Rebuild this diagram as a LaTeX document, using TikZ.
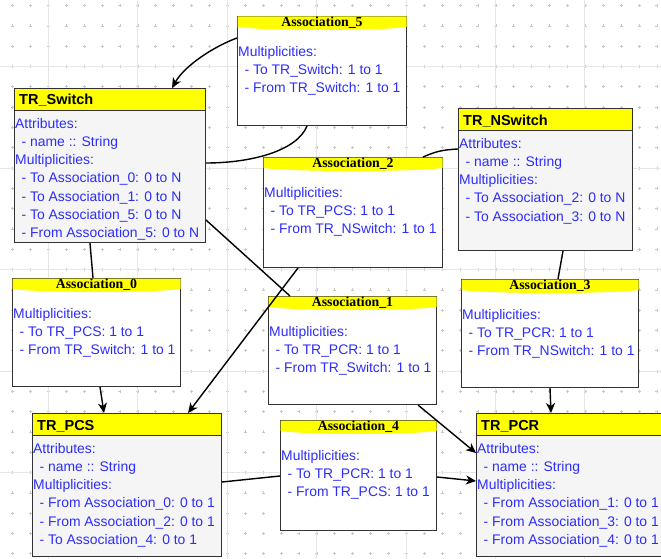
\documentclass[tikz,border=0pt]{standalone}
\usepackage{fontspec}
\setmainfont{Liberation Sans}
\newfontfamily\titleserif{Liberation Serif}
\usetikzlibrary{arrows.meta,calc}
\definecolor{HeadYellow}{RGB}{255,255,0}
\definecolor{BodyGray}{RGB}{245,245,245}
\definecolor{EdgeGray}{RGB}{50,50,50}
\definecolor{ListBlue}{RGB}{45,45,250}
\definecolor{GridLine}{RGB}{230,230,230}
\definecolor{GridDot}{RGB}{200,200,200}
\tikzset{
  classbox/.style={draw=EdgeGray,fill=BodyGray,line width=1pt,anchor=north west,
    inner sep=0pt},
  classhead/.style={draw=EdgeGray,fill=HeadYellow,line width=1pt,anchor=north west,
    inner sep=0pt,minimum height=22pt},
  assocbox/.style={draw=EdgeGray,fill=white,line width=1pt,anchor=north west,
    inner sep=0pt},
  classtitle/.style={anchor=base west,inner sep=0pt,
    font=\fontsize{14.5}{17}\selectfont\bfseries},
  assoctitle/.style={anchor=base,inner sep=0pt,
    font=\fontsize{13.8}{16}\selectfont\titleserif\bfseries},
  listing/.style={anchor=north west,inner sep=0pt,align=left,text=ListBlue,
    font=\fontsize{13.9}{18.2}\selectfont},
  link/.style={line width=1.4pt,black},
  arrow/.style={-{Stealth[length=10pt,width=9pt,inset=3pt]},line width=1.4pt,black},
  gridline/.style={GridLine,line width=0.8pt},
  griddot/.style={GridDot,line width=0.6pt}
}
\newcommand{\itm}{\hspace*{6.5pt}- }
% yellow ribbon on top of an association box
\newcommand{\ribbon}[1]{%
  \fill[HeadYellow] ($(#1.north west)+(0.5,0.5)$)
    -- ($(#1.north east)+(-0.5,0.5)$)
    -- ($(#1.north east)+(-0.5,11)$)
    .. controls ($(#1.north east)+(-30,15)$) and ($(#1.north west)+(30,15)$)
    .. ($(#1.north west)+(0.5,11)$) -- cycle;}

\begin{document}
\begin{tikzpicture}[x=1pt,y=-1pt]

\useasboundingbox (0,0) rectangle (661,559);
\clip (0,0) rectangle (661,559);
\fill[white] (0,0) rectangle (661,559);

% Grid
\foreach \gx in {12.5,30.4,...,662}
  \foreach \gy in {5.6,25.9,...,560}
    \draw[griddot] (\gx,\gy) +(-1.5,0) -- +(1.5,0) +(0,-1.5) -- +(0,1.5);
\foreach \gx in {48.3,137.7,...,662}
  \draw[gridline] (\gx,0) -- (\gx,559);
\foreach \gy in {66.5,168,...,560}
  \draw[gridline] (0,\gy) -- (661,\gy);

% Association_5
\node[assocbox,minimum width=169pt,minimum height=109pt] (a5) at (237,16) {};
\ribbon{a5}
\node[assoctitle] (a5-title) at ($(a5.north)+(0,10.5)$) {Association\_5};
\node[listing] (a5-txt) at ($(a5.north west)+(1,30)$)
  {Multiplicities:\\ \itm To TR\_Switch: 1 to 1\\ \itm From TR\_Switch: 1 to 1};

% TR_Switch
\node[classbox,minimum width=191pt,minimum height=154pt] (sw) at (14,88) {};
\node[classhead,minimum width=191pt] (sw-head) at (14,88) {};
\node[classtitle] (sw-title) at ($(sw.north west)+(5,17)$) {TR\_Switch};
\node[listing] (sw-txt) at ($(sw.north west)+(1,30)$)
  {Attributes:\\ \itm name :: String\\ Multiplicities:\\
   \itm To Association\_0: 0 to N\\ \itm To Association\_1: 0 to N\\
   \itm To Association\_5: 0 to N\\ \itm From Association\_5: 0 to N};

% Association_2
\node[assocbox,minimum width=179pt,minimum height=110pt] (a2) at (263,157) {};
\ribbon{a2}
\node[assoctitle] (a2-title) at ($(a2.north)+(0,10.5)$) {Association\_2};
\node[listing] (a2-txt) at ($(a2.north west)+(1,30)$)
  {Multiplicities:\\ \itm To TR\_PCS: 1 to 1\\ \itm From TR\_NSwitch: 1 to 1};

% TR_NSwitch
\node[classbox,minimum width=174pt,minimum height=142pt] (nsw) at (458,108) {};
\node[classhead,minimum width=174pt] (nsw-head) at (458,108) {};
\node[classtitle] (nsw-title) at ($(nsw.north west)+(5,17)$) {TR\_NSwitch};
\node[listing] (nsw-txt) at ($(nsw.north west)+(1,30)$)
  {Attributes:\\ \itm name :: String\\ Multiplicities:\\
   \itm To Association\_2: 0 to N\\ \itm To Association\_3: 0 to N};

% Association_0
\node[assocbox,minimum width=168pt,minimum height=108pt] (a0) at (12,278) {};
\ribbon{a0}
\node[assoctitle] (a0-title) at ($(a0.north)+(0,10.5)$) {Association\_0};
\node[listing] (a0-txt) at ($(a0.north west)+(1,30)$)
  {Multiplicities:\\ \itm To TR\_PCS: 1 to 1\\ \itm From TR\_Switch: 1 to 1};

% Association_1
\node[assocbox,minimum width=168pt,minimum height=108pt] (a1) at (268,296) {};
\ribbon{a1}
\node[assoctitle] (a1-title) at ($(a1.north)+(0,10.5)$) {Association\_1};
\node[listing] (a1-txt) at ($(a1.north west)+(1,30)$)
  {Multiplicities:\\ \itm To TR\_PCR: 1 to 1\\ \itm From TR\_Switch: 1 to 1};

% Association_3
\node[assocbox,minimum width=177pt,minimum height=108pt] (a3) at (461,279) {};
\ribbon{a3}
\node[assoctitle] (a3-title) at ($(a3.north)+(0,10.5)$) {Association\_3};
\node[listing] (a3-txt) at ($(a3.north west)+(1,30)$)
  {Multiplicities:\\ \itm To TR\_PCR: 1 to 1\\ \itm From TR\_NSwitch: 1 to 1};

% TR_PCS
\node[classbox,minimum width=189pt,minimum height=143pt] (pcs) at (32,413) {};
\node[classhead,minimum width=189pt] (pcs-head) at (32,413) {};
\node[classtitle] (pcs-title) at ($(pcs.north west)+(5,17)$) {TR\_PCS};
\node[listing] (pcs-txt) at ($(pcs.north west)+(1,30)$)
  {Attributes:\\ \itm name :: String\\ Multiplicities:\\
   \itm From Association\_0: 0 to 1\\ \itm From Association\_2: 0 to 1\\
   \itm To Association\_4: 0 to 1};

% Association_4
\node[assocbox,minimum width=156pt,minimum height=110pt] (a4) at (280,420) {};
\ribbon{a4}
\node[assoctitle] (a4-title) at ($(a4.north)+(0,10.5)$) {Association\_4};
\node[listing] (a4-txt) at ($(a4.north west)+(1,30)$)
  {Multiplicities:\\ \itm To TR\_PCR: 1 to 1\\ \itm From TR\_PCS: 1 to 1};

% TR_PCR
\node[classbox,minimum width=200pt,minimum height=143pt] (pcr) at (476,413) {};
\node[classhead,minimum width=200pt] (pcr-head) at (476,413) {};
\node[classtitle] (pcr-title) at ($(pcr.north west)+(5,17)$) {TR\_PCR};
\node[listing] (pcr-txt) at ($(pcr.north west)+(1,30)$)
  {Attributes:\\ \itm name :: String\\ Multiplicities:\\
   \itm From Association\_1: 0 to 1\\ \itm From Association\_3: 0 to 1\\
   \itm From Association\_4: 0 to 1};

% Connectors
\draw[arrow] ($(a5.north west)+(0,22)$) .. controls +(-22,8) and +(13,-23)
  .. ($(sw.north west)+(158,0)$);
\draw[link] ($(a5.south west)+(70,0)$) .. controls +(-10,25) and +(45,0)
  .. ($(sw.north east)+(0,75)$);
\draw[link] ($(sw.south west)+(76,0)$) .. controls +(1,12) and +(-1,-12)
  .. ($(a0.north west)+(81,0)$);
\draw[arrow] ($(a0.south west)+(88,0)$) -- ($(pcs.north west)+(72,0)$);
\draw[link] ($(sw.north east)+(0,132)$) -- ($(a1.north west)+(22,0)$);
\draw[arrow] ($(a1.south west)+(150,0)$) -- ($(pcr.north west)+(0,40)$);
\draw[arrow] ($(a2.south west)+(35,0)$) -- ($(pcs.north west)+(156,0)$);
\draw[link] ($(nsw.north west)+(0,41)$) .. controls +(-18,1) and +(12,-5)
  .. ($(a2.north west)+(160,0)$);
\draw[link] ($(nsw.south west)+(105,0)$) -- ($(a3.north west)+(97,0)$);
\draw[arrow] ($(a3.south west)+(89,0)$) -- ($(pcr.north west)+(75,0)$);
\draw[link] ($(pcs.north east)+(0,69)$) -- ($(a4.north west)+(0,56)$);
\draw[arrow] ($(a4.north east)+(0,57)$) -- ($(pcr.north west)+(0,68)$);

\end{tikzpicture}
\end{document}
